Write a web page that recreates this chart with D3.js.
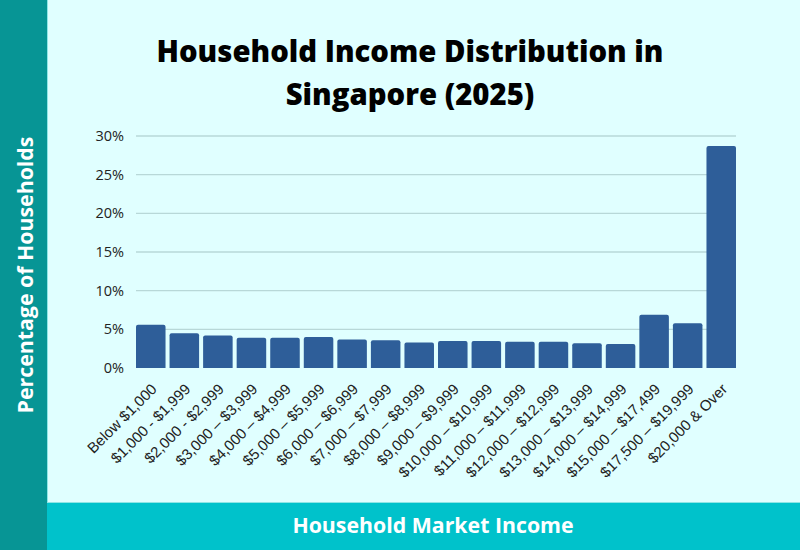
<!DOCTYPE html>
<html>
<head>
<meta charset="utf-8">
<script src="https://cdn.jsdelivr.net/npm/d3@7"></script>
<style>
  html, body { margin: 0; padding: 0; background: #e0ffff; }
  svg { display: block; }
</style>
</head>
<body>
<svg id="chart" width="800" height="550"></svg>
<script>
const categories = [
  "Below $1,000", "$1,000 - $1,999", "$2,000 - $2,999", "$3,000 \u2013 $3,999",
  "$4,000 \u2013 $4,999", "$5,000 \u2013 $5,999", "$6,000 \u2013 $6,999", "$7,000 \u2013 $7,999",
  "$8,000 \u2013 $8,999", "$9,000 \u2013 $9,999", "$10,000 \u2013 $10,999", "$11,000 \u2013 $11,999",
  "$12,000 \u2013 $12,999", "$13,000 \u2013 $13,999", "$14,000 \u2013 $14,999", "$15,000 \u2013 $17,499",
  "$17,500 \u2013 $19,999", "$20,000 & Over"
];
const values = [5.6, 4.5, 4.2, 3.9, 3.9, 4.0, 3.7, 3.6, 3.3, 3.5, 3.5, 3.4, 3.4, 3.2, 3.1, 6.9, 5.8, 28.7];
const yTicks = [0, 5, 10, 15, 20, 25, 30];
const titleLines = ["Household Income Distribution in", "Singapore (2025)"];
const yTitle = "Percentage of Households";
const xTitle = "Household Market Income";

const svg = d3.select("#chart");
const W = 800, H = 550;

// background
svg.append("rect").attr("width", W).attr("height", H).attr("fill", "#e0ffff");
// left band
svg.append("rect").attr("x", 0).attr("y", 0).attr("width", 47).attr("height", H).attr("fill", "#079595");
svg.append("line").attr("x1", 47.5).attr("x2", 47.5).attr("y1", 0).attr("y2", 503)
  .attr("stroke", "#8ee6e6").attr("stroke-width", 1);
// bottom band
svg.append("rect").attr("x", 47).attr("y", 503).attr("width", W - 47).attr("height", H - 503).attr("fill", "#00c2cb");
svg.append("line").attr("x1", 47).attr("x2", W).attr("y1", 502.5).attr("y2", 502.5)
  .attr("stroke", "#8ee6e6").attr("stroke-width", 1);

// title
svg.append("g").selectAll("text").data(titleLines).join("text")
  .attr("x", 410).attr("y", (d, i) => 62 + i * 43)
  .attr("text-anchor", "middle")
  .attr("font-family", "'Open Sans', sans-serif")
  .attr("font-weight", 800)
  .attr("font-size", 29.3)
  .attr("fill", "#000")
  .text(d => d);

const x = d3.scaleBand().domain(categories).range([136, 736]).paddingInner(0.12).paddingOuter(0.0);
const y = d3.scaleLinear().domain([0, 30]).range([368, 136]);

// grid
svg.append("g").selectAll("line").data(yTicks.filter(t => t > 0)).join("line")
  .attr("x1", 136).attr("x2", 736)
  .attr("y1", d => y(d)).attr("y2", d => y(d))
  .attr("stroke", "#b8d8d8").attr("stroke-width", 1.3);

// y axis
const yAxis = d3.axisLeft(y).tickValues(yTicks).tickFormat(d => d + "%").tickSize(0).tickPadding(12);
const gy = svg.append("g").attr("transform", "translate(136,0)").call(yAxis);
gy.select(".domain").remove();
gy.selectAll("text")
  .attr("font-family", "'Open Sans', sans-serif")
  .attr("font-size", 14.5)
  .attr("fill", "#222");

// bars with rounded top corners
const r = 2;
svg.append("g").selectAll("path").data(values).join("path")
  .attr("d", (d, i) => {
    const x0 = x(categories[i]), w = x.bandwidth(), y0 = y(d), yb = y(0);
    return `M${x0},${yb}V${y0 + r}Q${x0},${y0} ${x0 + r},${y0}H${x0 + w - r}Q${x0 + w},${y0} ${x0 + w},${y0 + r}V${yb}Z`;
  })
  .attr("fill", "#2e5e99");

// x axis
const xAxis = d3.axisBottom(x).tickSize(0).tickPadding(0);
const gx = svg.append("g").attr("transform", "translate(0,368)").call(xAxis);
gx.select(".domain").remove();
gx.selectAll("text")
  .attr("font-family", "'Liberation Sans', Arial, sans-serif")
  .attr("font-size", 15)
  .attr("fill", "#222")
  .attr("text-anchor", "end")
  .attr("dy", null)
  .attr("y", 0)
  .attr("transform", "translate(7,22) rotate(-45)");

// axis titles
svg.append("text")
  .attr("transform", "translate(32.5,275) rotate(-90)")
  .attr("text-anchor", "middle")
  .attr("font-family", "'Open Sans', sans-serif")
  .attr("font-weight", 700)
  .attr("font-size", 21.3)
  .attr("fill", "#fff")
  .text(yTitle);

svg.append("text")
  .attr("x", 433).attr("y", 533)
  .attr("text-anchor", "middle")
  .attr("font-family", "'Open Sans', sans-serif")
  .attr("font-weight", 700)
  .attr("font-size", 21.3)
  .attr("fill", "#fff")
  .text(xTitle);
</script>
</body>
</html>
